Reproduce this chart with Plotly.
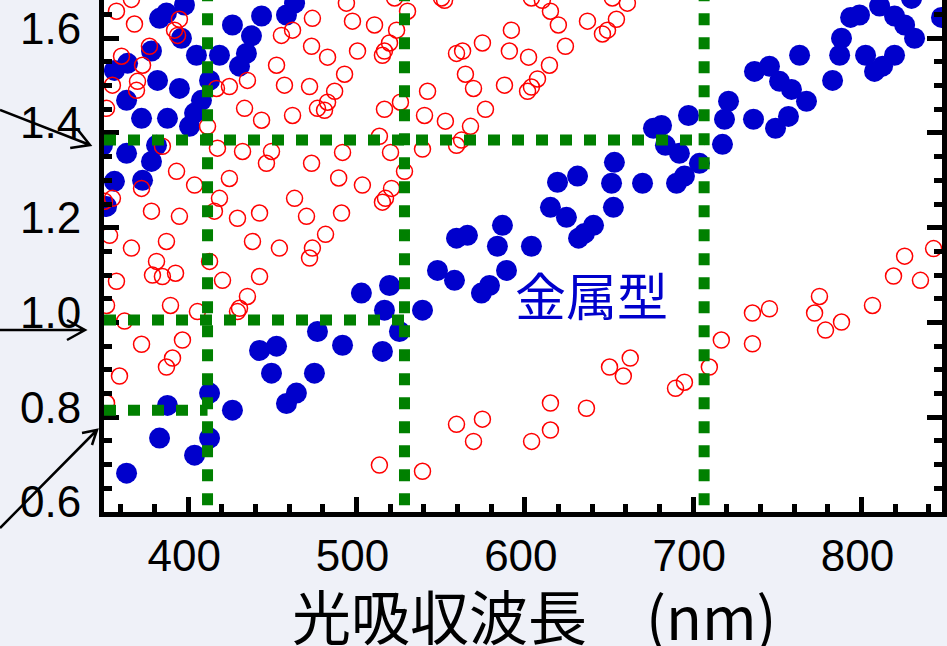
import plotly.graph_objects as go

# ---- data ----
blue_x = [383.0, 387.1, 397.8, 396.0, 404.9, 418.6, 426.3, 437.6, 443.6, 434.6, 430.5, 412.7, 407.9, 403.8,
          400.8, 378.2, 364.0, 356.2, 381.8, 394.8, 363.4, 372.3, 387.7, 349.1, 363.4, 381.2, 378.2, 372.9,
          356.2, 351.5, 458.4, 463.2,
          442.4, 452.5, 449.5, 464.3, 458.4, 475.0, 476.8, 387.7, 412.7, 426.3, 383.0, 412.7, 403.8, 363.4,
          548.1, 558.2, 574.2, 579.0, 589.1, 502.9, 519.6, 516.6, 539.2, 525.5, 491.7, 515.4,
          559.4, 565.9, 586.7, 583.7, 603.9, 615.2, 619.4, 631.3, 624.7, 653.2, 651.5, 652.6, 640.8, 631.9, 635.4,
          669.9, 676.4, 681.2, 683.5, 691.8, 697.2, 703.7, 690.1, 694.8, 717.4, 718.6, 721.0, 735.8, 736.4,
          745.3, 751.3, 758.4, 767.3, 748.9, 756.6, 763.2, 782.8, 787.0, 788.1, 793.5, 798.8, 810.7, 819.6,
          825.6, 831.5, 829.7, 802.4, 807.7, 812.5, 819.6, 847.5]
blue_y = [1.642, 1.653, 1.670, 1.600, 1.564, 1.564, 1.628, 1.605, 1.647, 1.568, 1.541, 1.511, 1.469, 1.442,
          1.414, 1.573, 1.547, 1.532, 1.511, 1.494, 1.469, 1.431, 1.431, 1.374, 1.357, 1.374, 1.340, 1.300,
          1.298, 1.245, 1.649, 1.674,
          0.941, 0.950, 0.893, 0.851, 0.829, 0.893, 0.981, 0.825, 0.851, 0.815, 0.756, 0.756, 0.720, 0.682,
          1.110, 1.089, 1.062, 1.078, 1.110, 1.062, 1.078, 1.026, 1.026, 0.981, 0.952, 0.939,
          1.178, 1.184, 1.205, 1.161, 1.161, 1.243, 1.296, 1.309, 1.222, 1.338, 1.294, 1.243, 1.205, 1.178, 1.188,
          1.294, 1.410, 1.416, 1.374, 1.357, 1.437, 1.336, 1.294, 1.309, 1.376, 1.429, 1.467, 1.429, 1.530,
          1.541, 1.509, 1.492, 1.467, 1.410, 1.435, 1.564, 1.511, 1.564, 1.600, 1.644, 1.649, 1.668, 1.647,
          1.628, 1.600, 1.684, 1.564, 1.530, 1.541, 1.564, 1.644]

red_x = [357.4, 366.3, 368.1, 394.8, 391.9, 393.7, 377.0, 360.4, 372.9, 355.0, 369.9, 369.3, 351.5, 416.8,
         424.5, 435.2, 452.5, 457.2, 472.1, 455.4, 462.0, 473.8, 473.3, 476.8, 433.5, 443.6, 462.0, 411.5,
         417.4, 432.3, 449.5, 446.5, 473.3, 384.7, 393.1, 403.8, 424.5, 418.6, 415.6, 429.3, 442.4, 463.2,
         470.3, 378.2, 394.8, 372.3, 355.0, 350.3, 353.3, 366.3, 387.1, 438.2, 454.2, 473.8,
         381.2, 378.8, 384.7, 392.5, 357.4, 351.5, 389.5, 362.2, 372.3, 396.6, 390.7, 387.1, 359.2, 351.5,
         412.7, 420.4, 442.4, 435.2, 430.5, 429.3, 405.5, 472.1,
         494.0, 497.6, 510.7, 523.8, 530.3, 519.6, 516.6, 515.4, 500.6, 482.8, 492.9, 487.0, 482.8, 481.0,
         516.6, 526.1, 542.2, 540.4, 552.8, 567.7, 562.4, 559.4, 539.2, 513.6, 520.2, 491.7, 489.4, 503.5,
         528.5, 520.8, 517.2, 515.4, 491.1, 481.6, 559.4, 563.0, 574.8, 564.7, 569.5, 587.9, 590.8, 592.0,
         602.2, 614.6, 607.5, 603.9, 601.6, 576.6, 615.2, 619.9, 624.1, 637.2, 646.1, 649.1, 654.4, 660.9,
         652.0, 603.9, 610.4, 550.5, 552.3, 522.6,
         825.6, 842.8,
         513.6, 539.2, 559.4, 574.8, 569.5, 604.0, 615.2, 615.2, 636.6, 650.3,
         662.6, 658.5, 689.5, 694.8, 709.6, 716.7, 735.2, 745.3, 735.2, 775.0, 772.1, 778.6, 788.1, 806.5,
         819.0, 835.0]
red_y = [1.657, 1.682, 1.630, 1.640, 1.617, 1.606, 1.583, 1.562, 1.543, 1.501, 1.509, 1.490, 1.452, 1.494,
         1.498, 1.511, 1.543, 1.501, 1.498, 1.606, 1.617, 1.642, 1.583, 1.452, 1.452, 1.427, 1.437, 1.414,
         1.368, 1.361, 1.361, 1.336, 1.336, 1.372, 1.319, 1.290, 1.304, 1.262, 1.235, 1.220, 1.231, 1.262,
         1.224, 1.235, 1.224, 1.283, 1.262, 1.256, 1.184, 1.157, 1.171, 1.171, 1.157, 1.157,
         1.129, 1.100, 1.097, 1.104, 1.087, 1.036, 1.036, 1.003, 0.954, 0.963, 0.925, 0.906, 0.887, 0.830,
         1.129, 1.089, 1.097, 1.055, 1.030, 1.023, 1.023, 1.136,
         1.674, 1.636, 1.628, 1.617, 1.657, 1.590, 1.573, 1.564, 1.573, 1.560, 1.524, 1.488, 1.465, 1.448,
         1.450, 1.465, 1.488, 1.437, 1.425, 1.414, 1.385, 1.374, 1.366, 1.393, 1.359, 1.359, 1.305, 1.290,
         1.319, 1.283, 1.262, 1.254, 1.231, 1.186, 1.568, 1.573, 1.590, 1.524, 1.494, 1.501, 1.573, 1.617,
         1.560, 1.543, 1.514, 1.497, 1.488, 1.450, 1.657, 1.628, 1.583, 1.636, 1.609, 1.617, 1.640, 1.674,
         1.685, 1.685, 1.680, 1.685, 1.680, 1.685,
         1.140, 1.156,
         0.699, 0.686, 0.785, 0.796, 0.749, 0.749, 0.830, 0.773, 0.819, 0.906,
         0.925, 0.887, 0.861, 0.874, 0.906, 0.963, 1.020, 1.029, 0.955, 1.055, 1.020, 0.984, 1.001, 1.036,
         1.098, 1.089]

# green guide lines
guide_v_x = [411.5, 528.5, 706.5]
guide_h_y = [1.385, 1.005, 0.815]
guide_h_end = [706.5, 528.5, 411.5]

x_tick_vals = [400, 500, 600, 700, 800]
y_tick_vals = [0.6, 0.8, 1.0, 1.2, 1.4, 1.6]
y_tick_text = ["0.6", "0.8", "1.0", "1.2", "1.4", "1.6"]

x_range = [350, 847.8]
y_range = [0.6, 1.6807]

label_text = "金属型"
x_title = "光吸収波長\u3000(nm)"

GREEN = "#008000"
BLUE = "#0000CC"
RED = "#FF0000"

fig = go.Figure()
fig.add_trace(go.Scatter(x=blue_x, y=blue_y, mode="markers",
                         marker=dict(size=21, color=BLUE, line=dict(width=0)),
                         showlegend=False, hoverinfo="skip"))
fig.add_trace(go.Scatter(x=red_x, y=red_y, mode="markers",
                         marker=dict(symbol="circle-open", size=16, color=RED, line=dict(width=1.5)),
                         showlegend=False, hoverinfo="skip"))

shapes = []
for gx in guide_v_x:
    shapes.append(dict(type="line", xref="x", yref="y", x0=gx, x1=gx, y0=0.614, y1=y_range[1],
                       line=dict(color=GREEN, width=11, dash="12px,12px"), layer="above"))
for gy, ge in zip(guide_h_y, guide_h_end):
    shapes.append(dict(type="line", xref="x", yref="y", x0=x_range[0], x1=ge, y0=gy, y1=gy,
                       line=dict(color=GREEN, width=11, dash="12px,12px"), layer="above"))

# pointer arrows in the left margin (pixel offsets from plot's top-left corner)
arrow_paths = [
    "M -104,-110 L -14,-145 M -26.5,-129.4 L -14,-145 L -33.8,-148.1",
    "M -104,-330 L -19,-330 M -37,-320 L -19,-330 L -37,-340",
    "M -104,-528 L -7,-430 M -22,-433 L -7,-430 L -12,-445",
]
for p in arrow_paths:
    shapes.append(dict(type="path", path=p, xref="paper", yref="paper",
                       xsizemode="pixel", ysizemode="pixel", xanchor=0, yanchor=1,
                       line=dict(color="black", width=2.5), layer="above"))

fig.update_layout(
    width=947, height=646,
    margin=dict(l=104, r=5, t=0, b=134, autoexpand=False),
    paper_bgcolor="#eff1f8",
    plot_bgcolor="white",
    shapes=shapes,
    showlegend=False,
    annotations=[
        dict(x=639.6, y=1.06, xref="x", yref="y", text=label_text, showarrow=False,
             font=dict(family="Noto Sans CJK JP", size=51, color=BLUE)),
        dict(x=0.514, y=-0.2, xref="paper", yref="paper", text=x_title, showarrow=False,
             xanchor="center", yanchor="middle",
             font=dict(family="Noto Sans CJK JP", size=59, color="black")),
    ],
)

fig.update_xaxes(range=x_range, tickvals=x_tick_vals, showgrid=False, zeroline=False, automargin=False,
                 showline=True, linecolor="black", linewidth=5, mirror=False,
                 ticks="inside", ticklen=15, tickwidth=5, tickcolor="black",
                 minor=dict(dtick=20, tick0=0, ticks="inside", ticklen=8, tickwidth=5, tickcolor="black"),
                 tickfont=dict(family="Liberation Sans, Arial", size=44, color="black"),
                 ticklabelstandoff=1, ticklabelshift=-4)
fig.update_yaxes(range=y_range, tickvals=y_tick_vals, ticktext=y_tick_text, showgrid=False, zeroline=False,
                 automargin=False,
                 showline=True, linecolor="black", linewidth=5, mirror="ticks",
                 ticks="inside", ticklen=15, tickwidth=5, tickcolor="black",
                 minor=dict(dtick=0.05, tick0=0, ticks="inside", ticklen=8, tickwidth=5, tickcolor="black"),
                 tickfont=dict(family="Liberation Sans, Arial", size=44, color="black"),
                 ticklabelstandoff=9, ticklabelshift=-10)

fig.write_html("out.html",
               config={"displayModeBar": False},
               post_script="document.body.style.margin='0px';document.body.style.overflow='hidden';")
